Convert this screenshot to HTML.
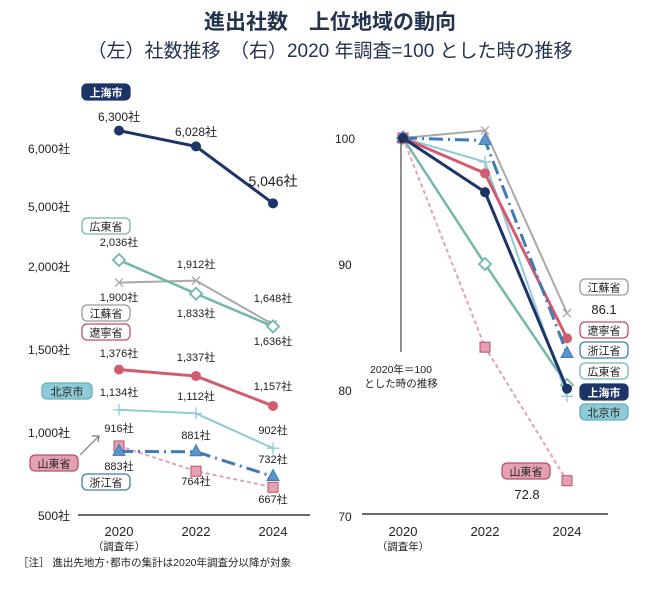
<!DOCTYPE html>
<html><head><meta charset="utf-8"><style>
body{margin:0;background:#fff;}
svg{display:block;font-family:"Liberation Sans","Noto Sans CJK JP",sans-serif;}
</style></head><body>
<svg id="c" width="661" height="589" viewBox="0 0 661 589">
<text x="330" y="29" text-anchor="middle" font-size="21" font-weight="bold" fill="#24344f">進出社数　上位地域の動向</text>
<text x="330" y="57" text-anchor="middle" font-size="19" fill="#24344f">（左）社数推移　（右）2020 年調査=100 とした時の推移</text>
<g id="left"></g><g id="right"></g>
<text x="18" y="566" font-size="10.5" fill="#222">［注］ 進出先地方･都市の集計は2020年調査分以降が対象</text>
</svg>
<script>
const years = ["2020","2022","2024"];
const shanghai = [6300,6028,5046];
const jiangsu = [1900,1912,1648];
const guangdong = [2036,1833,1636];
const liaoning = [1376,1337,1157];
const beijing = [1134,1112,902];
const zhejiang = [883,881,732];
const shandong = [916,764,667];
const idxShanghai=[100,95.7,80.1];
const idxJiangsu=[100,100.6,86.1];
const idxLiaoning=[100,97.2,84.1];
const idxZhejiang=[100,99.8,82.9];
const idxGuangdong=[100,90.0,80.4];
const idxBeijing=[100,98.1,79.5];
const idxShandong=[100,83.4,72.8];
const leftTicks=[500,1000,1500,2000,5000,6000];
const rightTicks=[70,80,90,100];

const NS="http://www.w3.org/2000/svg";
const L=document.getElementById('left'), R=document.getElementById('right');
function mk(p,tag,a,txt){const e=document.createElementNS(NS,tag);for(const k in a)e.setAttribute(k,a[k]);if(txt!==undefined)e.textContent=txt;p.appendChild(e);return e;}
const lx=i=>119+i*77;
const ly=v=>v>=4000?206-(v-5000)*0.058:515-(v-500)*0.166;
const rx=i=>403+i*82;
const ry=v=>138+(100-v)*12.6;

// axes
let e=mk(L,'line',{x1:78,y1:515,x2:310,y2:515,stroke:'#111','stroke-width':1.2});

e=mk(R,'line',{x1:362,y1:514,x2:608,y2:514,stroke:'#111','stroke-width':1.2});

leftTicks.forEach(t=>{const el=mk(L,'text',{x:70,y:ly(t)+5,'text-anchor':'end','font-size':12,fill:'#222'},t.toLocaleString('en-US')+'社');
});
rightTicks.forEach(t=>{const el=mk(R,'text',{x:345,y:ry(t)+5,'text-anchor':'middle','font-size':12,fill:'#222'},String(t));
});
years.forEach((y,i)=>{let el=mk(L,'text',{x:lx(i),y:536,'text-anchor':'middle','font-size':13,fill:'#222'},y);

el=mk(R,'text',{x:rx(i),y:536,'text-anchor':'middle','font-size':13,fill:'#222'},y);
});
[[L,119],[R,403]].forEach(([g,x])=>{const el=mk(g,'text',{x:x,y:550,'text-anchor':'middle','font-size':10.5,fill:'#222'},'（調査年）');
});

const series=[
 {n:'jiangsu',d:jiangsu,r:idxJiangsu,c:'#a9a9a9',w:2,dash:'',m:'x'},
 {n:'guangdong',d:guangdong,r:idxGuangdong,c:'#72b7a9',w:2.5,dash:'',m:'diamond'},
 {n:'beijing',d:beijing,r:idxBeijing,c:'#8fcbd6',w:2,dash:'',m:'plus'},
 {n:'liaoning',d:liaoning,r:idxLiaoning,c:'#d35b6f',w:3,dash:'',m:'circle'},
 {n:'shandong',d:shandong,r:idxShandong,c:'#e3a1b3',w:2,dash:'4,3',m:'square'},
 {n:'zhejiang',d:zhejiang,r:idxZhejiang,c:'#3f7bb7',w:3,dash:'14,5,2,5',m:'triangle'},
 {n:'shanghai',d:shanghai,r:idxShanghai,c:'#1c3467',w:3,dash:'',m:'circle'}
];
function marker(g,m,x,y,c,name){
 let el;
 if(m==='circle')el=mk(g,'circle',{cx:x,cy:y,r:5,fill:c});
 else if(m==='x')el=mk(g,'path',{d:`M${x-4} ${y-4}L${x+4} ${y+4}M${x+4} ${y-4}L${x-4} ${y+4}`,stroke:c,'stroke-width':1.3});
 else if(m==='plus')el=mk(g,'path',{d:`M${x-6} ${y}H${x+6}M${x} ${y-6}V${y+6}`,stroke:c,'stroke-width':1.3});
 else if(m==='diamond')el=mk(g,'path',{d:`M${x} ${y-6}L${x+6} ${y}L${x} ${y+6}L${x-6} ${y}Z`,fill:'#fff',stroke:c,'stroke-width':1.8});
 else if(m==='square')el=mk(g,'rect',{x:x-5,y:y-5,width:10,height:10,fill:'#e3a1b3',stroke:'#b8506a','stroke-width':1});
 else el=mk(g,'path',{d:`M${x} ${y-7}L${x+6} ${y+4}L${x-6} ${y+4}Z`,fill:'#5a94cf',stroke:'#3f7bb7','stroke-width':1});
 
}
series.forEach(s=>{
 let pl=mk(L,'polyline',{points:s.d.map((v,i)=>lx(i)+','+ly(v)).join(' '),fill:'none',stroke:s.c,'stroke-width':s.w,'stroke-dasharray':s.dash});
 
 s.d.forEach((v,i)=>marker(L,s.m,lx(i),ly(v),s.c,'left-point-'+s.n));
});
series.forEach(s=>{
 let pl=mk(R,'polyline',{points:s.r.map((v,i)=>rx(i)+','+ry(v)).join(' '),fill:'none',stroke:s.c,'stroke-width':s.w,'stroke-dasharray':s.dash});
 
 s.r.forEach((v,i)=>marker(R,s.m,rx(i),ry(v),s.c,'right-point-'+s.n));
});

// value labels (left)
const vl=[[119,121,'6,300社',12],[196,136,'6,028社',12],[273,186,'5,046社',14],
[119,246,'2,036社',11],[196,268,'1,912社',11],[273,302,'1,648社',11],
[119,301,'1,900社',11],[196,317,'1,833社',11],[273,345,'1,636社',11],
[119,357,'1,376社',11],[196,361,'1,337社',11],[273,390,'1,157社',11],
[119,396,'1,134社',11],[196,400,'1,112社',11],[273,434,'902社',11],
[119,432,'916社',11],[196,439,'881社',11],[273,463,'732社',11],
[119,470,'883社',11],[196,485,'764社',11],[273,503,'667社',11]];
vl.forEach(a=>{const el=mk(L,'text',{x:a[0],y:a[1],'text-anchor':'middle','font-size':a[3],fill:'#222'},a[2]);
});
e=mk(L,'path',{d:'M80 455L98 437M92 436L99 436L98 442',stroke:'#777','stroke-width':1.2,fill:'none'});


function tag(g,x,y,w,txt,stroke,fill,tc){
 const r=mk(g,'rect',{x:x,y:y,width:w,height:16,rx:5,fill:fill,stroke:stroke,'stroke-width':1.3});
 
 const t=mk(g,'text',{x:x+w/2,y:y+12.5,'text-anchor':'middle','font-size':11,fill:tc,'font-weight':fill==='#1c3467'?'bold':'normal'},txt);
 
}
tag(L,82,84,48,'上海市','#1c3467','#1c3467','#fff');
tag(L,82,218,48,'広東省','#72b7a9','#fff','#222');
tag(L,82,305,48,'江蘇省','#999','#fff','#222');
tag(L,82,324,48,'遼寧省','#c05060','#fff','#222');
tag(L,42,383,50,'北京市','#5fb0bf','#8fcbd6','#222');
tag(L,30,455,48,'山東省','#b8506a','#e3a1b3','#222');
tag(L,82,474,48,'浙江省','#3f7bb7','#fff','#222');
tag(R,580,279,48,'江蘇省','#999','#fff','#222');
tag(R,580,322,48,'遼寧省','#c05060','#fff','#222');
tag(R,580,342,48,'浙江省','#3f7bb7','#fff','#222');
tag(R,580,363,48,'広東省','#72b7a9','#fff','#222');
tag(R,580,384,48,'上海市','#1c3467','#1c3467','#fff');
tag(R,580,404,48,'北京市','#5fb0bf','#8fcbd6','#222');
tag(R,502,463,48,'山東省','#b8506a','#e3a1b3','#222');
e=mk(R,'text',{x:604,y:314,'text-anchor':'middle','font-size':13,fill:'#222'},'86.1');

e=mk(R,'text',{x:527,y:499,'text-anchor':'middle','font-size':13,fill:'#222'},'72.8');

e=mk(R,'line',{x1:401,y1:138,x2:401,y2:352,stroke:'#222','stroke-width':1});

e=mk(R,'text',{x:401,y:373,'text-anchor':'middle','font-size':10.5,fill:'#222'},'2020年＝100');

e=mk(R,'text',{x:401,y:387,'text-anchor':'middle','font-size':10.5,fill:'#222'},'とした時の推移');

</script>
</body></html>
